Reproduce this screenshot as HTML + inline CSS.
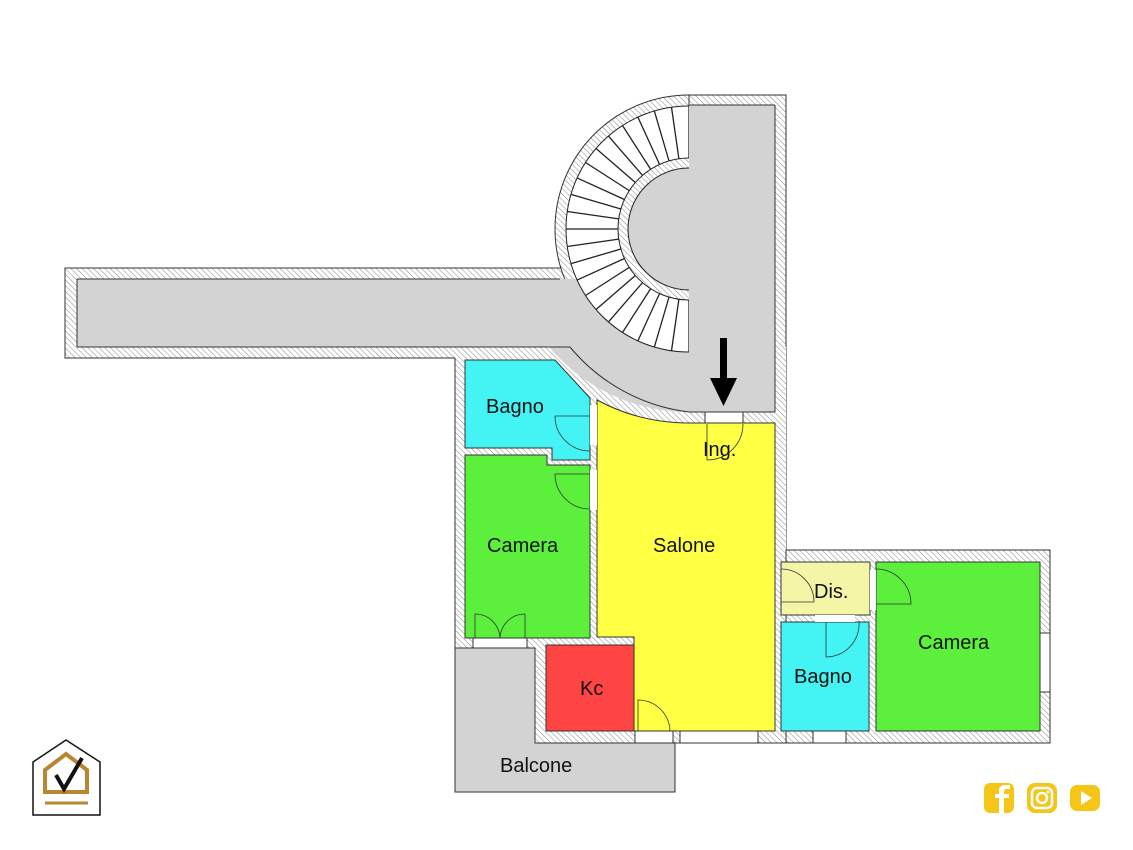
<!DOCTYPE html>
<html><head><meta charset="utf-8"><style>
html,body{margin:0;padding:0;background:#fff;width:1133px;height:850px;overflow:hidden}
text{font-family:"Liberation Sans",sans-serif;font-size:20px;fill:#111}
</style></head><body>
<svg width="1133" height="850" viewBox="0 0 1133 850" xmlns="http://www.w3.org/2000/svg">
<defs>
<pattern id="h" patternUnits="userSpaceOnUse" width="4" height="4" patternTransform="rotate(-45)">
<rect width="4" height="4" fill="#fff"/><line x1="0" y1="0" x2="0" y2="4" stroke="#888" stroke-width="1"/>
</pattern>
<clipPath id="left"><rect x="0" y="0" width="689" height="850"/></clipPath>
<clipPath id="greyclip"><rect x="77" y="279" width="698" height="140"/></clipPath>
</defs>
<g stroke="#333" stroke-width="1">
<rect x="65" y="268" width="505" height="90" fill="url(#h)"/>
<circle cx="689" cy="229" r="134" fill="url(#h)" clip-path="url(#left)"/>
<rect x="689" y="95" width="97" height="460" fill="url(#h)"/>
<rect x="455" y="347" width="331" height="396" fill="url(#h)" stroke="none"/>
<rect x="786" y="550" width="264" height="193" fill="url(#h)"/>
<line x1="455" y1="358" x2="455" y2="648"/>
<line x1="455" y1="743" x2="786" y2="743" />
</g>
<g fill="#d3d3d3" stroke="#333" stroke-width="1">
<rect x="77" y="279" width="500" height="68" stroke="none"/>
<circle cx="689" cy="229" r="183" clip-path="url(#greyclip)" stroke="none"/>
<rect x="689" y="105" width="86" height="307" stroke="none"/>
<line x1="77" y1="279" x2="560" y2="279"/>
<line x1="77" y1="347" x2="570" y2="347"/>
<line x1="77" y1="279" x2="77" y2="347"/>
<line x1="775" y1="105" x2="775" y2="412"/>
<line x1="689" y1="105" x2="775" y2="105"/>
<path d="M570,347 A183 183 0 0 0 689 412 L775 412" fill="none"/>
</g>
<g clip-path="url(#left)" stroke="#222">
<circle cx="689" cy="229" r="123" fill="#fff" stroke-width="1"/>
<g stroke-width="1.3">
<line x1="689" y1="106" x2="689" y2="158"/>
<line x1="689" y1="300" x2="689" y2="352"/>
</g>
<g id="steps" stroke-width="1.3"></g>
<circle cx="689" cy="229" r="71" fill="url(#h)" stroke-width="1"/>
<circle cx="689" cy="229" r="61" fill="#d3d3d3" stroke-width="1"/>
</g>
<g stroke="#333" stroke-width="1">
<path d="M465,360 L555,360 L590,398 L590,460 L552,460 L552,448 L465,448 Z" fill="#44f4f4"/>
<path d="M465,455 L547,455 L547,465 L590,465 L590,638 L465,638 Z" fill="#5cf03c"/>
<path d="M597,400 A194 194 0 0 0 689 423 L775 423 L775 731 L634 731 L634 637 L597 637 Z" fill="#ffff44"/>
<rect x="546" y="645" width="88" height="86" fill="#ff4444"/>
<path d="M455,648 L535,648 L535,743 L675,743 L675,792 L455,792 Z" fill="#d3d3d3"/>
<rect x="781" y="562" width="89" height="53" fill="#f5f5a8"/>
<rect x="781" y="622" width="88" height="109" fill="#44f4f4"/>
<rect x="876" y="562" width="164" height="169" fill="#5cf03c"/>
</g>
<g fill="#fff" stroke="#333" stroke-width="1">
<rect x="705" y="412" width="38" height="11"/>
<rect x="473" y="638" width="54" height="10"/>
<rect x="635" y="731" width="38" height="12"/>
<rect x="680" y="731" width="78" height="12"/>
<rect x="813" y="731" width="33" height="12"/>
<rect x="1040" y="633" width="10" height="59"/>
<rect x="590" y="470" width="7" height="40" stroke="none"/>
<rect x="590" y="405" width="7" height="40" stroke="none"/>
<rect x="870" y="570" width="6" height="40" stroke="none"/>
<rect x="815" y="615" width="40" height="7" stroke="none"/>
</g>
<g fill="none" stroke="#333" stroke-width="0.8">
<path d="M707,424 L707,460 M707,460 A36 36 0 0 0 743 424"/>
<path d="M555,416 A35 35 0 0 0 590 451 M555,416 L590,416"/>
<path d="M555,474 A35 35 0 0 0 590 509 M555,474 L590,474"/>
<path d="M475,638 L475,614 A25 25 0 0 1 500 638 M525,638 L525,614 A25 25 0 0 0 500 638"/>
<path d="M638,731 L638,700 A32 32 0 0 1 670 731"/>
<path d="M781,569 A33 33 0 0 1 814 602 L781 602"/>
<path d="M876,569 A35 35 0 0 1 911 604 L876 604"/>
<path d="M826,622 L826,657 A33 33 0 0 0 859 622"/>
</g>
<rect x="720" y="338" width="7" height="44" fill="#000"/>
<path d="M710,378 L737,378 L723.5,406 Z" fill="#000"/>
<text x="486" y="413">Bagno</text>
<text x="703" y="456">Ing.</text>
<text x="487" y="552">Camera</text>
<text x="653" y="552">Salone</text>
<text x="580" y="695">Kc</text>
<text x="500" y="772">Balcone</text>
<text x="814" y="598">Dis.</text>
<text x="794" y="683">Bagno</text>
<text x="918" y="649">Camera</text>
<g fill="none">
<path d="M33,762 L66,740 L100,762 L100,815 L33,815 Z" stroke="#111" stroke-width="1.5"/>
<path d="M45,770 L66,754 L87,770 L87,792 L45,792 Z" stroke="#b8862e" stroke-width="4"/>
<line x1="45" y1="803" x2="88" y2="803" stroke="#b8862e" stroke-width="3"/>
<path d="M56,775 L64,789 L82,758" stroke="#111" stroke-width="4"/>
</g>
<g fill="#f5c518">
<rect x="984" y="783" width="30" height="30" rx="6"/>
<rect x="1027" y="783" width="30" height="30" rx="8"/>
<rect x="1070" y="785" width="30" height="26" rx="7"/>
</g>
<path d="M1004,813 L1004,798 L1009,798 L1009,794 L1004,794 L1004,791 Q1004,789 1007,789 L1010,789 L1010,785 L1005,785 Q999,785 999,791 L999,794 L995,794 L995,798 L999,798 L999,813 Z" fill="#fff"/>
<rect x="1032" y="788" width="20" height="20" rx="5" fill="none" stroke="#fff" stroke-width="2.5"/>
<circle cx="1042" cy="798" r="5" fill="none" stroke="#fff" stroke-width="2.5"/>
<circle cx="1048" cy="792" r="1.3" fill="#fff"/>
<path d="M1081,791 L1092,798 L1081,805 Z" fill="#fff"/>
</svg>
<script>
(function(){var g=document.getElementById('steps');var cx=689,cy=229;var n=22;
for(var i=1;i<n;i++){var a=Math.PI/2+Math.PI*i/n;var c=Math.cos(a),s=Math.sin(a);
var l=document.createElementNS('http://www.w3.org/2000/svg','line');
l.setAttribute('x1',cx+71*c);l.setAttribute('y1',cy-71*s);l.setAttribute('x2',cx+123*c);l.setAttribute('y2',cy-123*s);g.appendChild(l);}})();
</script>
</body></html>
